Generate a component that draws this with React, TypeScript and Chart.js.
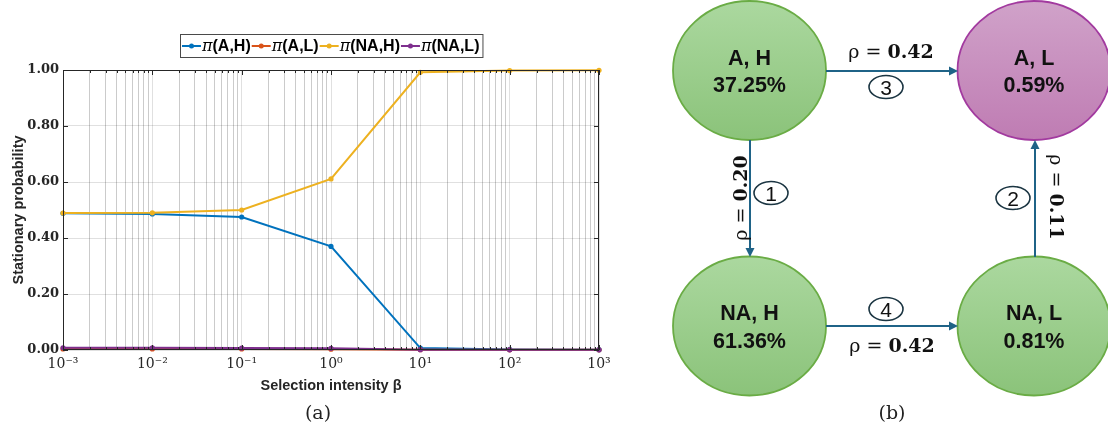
import React, { useEffect, useRef } from 'react';
import { Chart, registerables } from 'chart.js';

Chart.register(...registerables);

// ---------- chart data (panel a) ----------
const betaValues = [0.001, 0.01, 0.1, 1, 10, 100, 1000];
const piAH = [0.488, 0.486, 0.475, 0.370, 0.007, 0.002, 0.001];
const piAL = [0.004, 0.004, 0.004, 0.003, 0.001, 0.0005, 0.0005];
const piNAH = [0.489, 0.490, 0.500, 0.611, 0.992, 0.998, 0.999];
const piNAL = [0.008, 0.008, 0.007, 0.006, 0.001, 0.0005, 0.0005];
const seriesLabels = ['(A,H)', '(A,L)', '(NA,H)', '(NA,L)'];
const seriesColors = ['#0072BD', '#D95319', '#EDB120', '#7E2F8E'];
const yTicks = [0, 0.2, 0.4, 0.6, 0.8, 1.0];
const xTickLabels = ['10⁻³', '10⁻²', '10⁻¹', '10⁰', '10¹', '10²', '10³'];
const xDecades = [-3, -2, -1, 0, 1, 2, 3];
const yTitle = 'Stationary probability';
const xTitle = 'Selection intensity β';

// ---------- diagram data (panel b) ----------
const stateNames = ['A, H', 'A, L', 'NA, H', 'NA, L'];
const statePercents = ['37.25%', '0.59%', '61.36%', '0.81%'];
const transitionNumbers = ['1', '2', '3', '4'];
const transitionRhos = ['0.20', '0.11', '0.42', '0.42'];

const isDecade = (v: number) => {
  const l = Math.log10(v);
  return Math.abs(l - Math.round(l)) < 1e-9;
};

const boxPlugin = {
  id: 'matlabBox',
  afterDatasetsDraw(chart: any) {
    const { ctx, chartArea: a, scales } = chart;
    const xs = scales.x;
    const ys = scales.y;
    ctx.save();
    ctx.strokeStyle = '#262626';
    ctx.lineWidth = 1;
    ctx.beginPath();
    ctx.rect(a.left + 0.5, a.top + 0.5, a.right - a.left - 1, a.bottom - a.top - 1);
    ctx.stroke();
    ctx.beginPath();
    xs.ticks.forEach((t: any) => {
      const px = Math.round(xs.getPixelForValue(t.value)) + 0.5;
      const len = isDecade(t.value) ? 5 : 3;
      ctx.moveTo(px, a.bottom);
      ctx.lineTo(px, a.bottom - len);
      ctx.moveTo(px, a.top);
      ctx.lineTo(px, a.top + len);
    });
    ys.ticks.forEach((t: any) => {
      const py = Math.round(ys.getPixelForValue(t.value)) + 0.5;
      ctx.moveTo(a.left, py);
      ctx.lineTo(a.left + 5, py);
      ctx.moveTo(a.right, py);
      ctx.lineTo(a.right - 5, py);
    });
    ctx.stroke();
    ctx.restore();
  },
  afterDraw(chart: any) {
    const { ctx, chartArea: a } = chart;
    const piFont = 'italic 16px "DejaVu Serif"';
    const labFont = 'bold 16px "Liberation Sans"';
    const lineW = 19;
    const items = chart.data.datasets.map((ds: any) => {
      ctx.font = piFont;
      const wp = ctx.measureText('π').width;
      ctx.font = labFont;
      const wl = ctx.measureText(ds.label).width;
      return { label: ds.label, color: ds.borderColor, wp, wl, w: lineW + 1 + wp + wl + 1 };
    });
    const total = items.reduce((s: number, it: any) => s + it.w, 0) + 4;
    const cx = (a.left + a.right) / 2;
    const left = Math.round(cx - total / 2);
    const top = 34;
    const h = 23;
    ctx.save();
    ctx.fillStyle = '#ffffff';
    ctx.fillRect(left, top, total, h);
    ctx.strokeStyle = '#4a4a4a';
    ctx.lineWidth = 1;
    ctx.strokeRect(left + 0.5, top + 0.5, total, h);
    let x = left + 2;
    const midY = top + h / 2 + 0.5;
    items.forEach((it: any) => {
      ctx.strokeStyle = it.color;
      ctx.fillStyle = it.color;
      ctx.lineWidth = 2;
      ctx.beginPath();
      ctx.moveTo(x, midY);
      ctx.lineTo(x + lineW, midY);
      ctx.stroke();
      ctx.beginPath();
      ctx.arc(x + lineW / 2, midY, 2.5, 0, Math.PI * 2);
      ctx.fill();
      let tx = x + lineW + 1;
      ctx.fillStyle = '#000000';
      ctx.textBaseline = 'middle';
      ctx.textAlign = 'left';
      ctx.font = piFont;
      ctx.fillText('π', tx, midY + 1);
      tx += it.wp;
      ctx.font = labFont;
      ctx.fillText(it.label, tx, midY + 1);
      x += it.w;
    });
    ctx.restore();
  },
};

function LeftChart() {
  const ref = useRef<HTMLCanvasElement | null>(null);
  useEffect(() => {
    if (!ref.current) return;
    const seriesValues = [piAH, piAL, piNAH, piNAL];
    const orders = [4, 3, 2, 1];
    const chart = new Chart(ref.current, {
      type: 'line',
      data: {
        datasets: seriesValues.map((vals, i) => ({
          label: seriesLabels[i],
          data: betaValues.map((b, j) => ({ x: b, y: vals[j] })),
          borderColor: seriesColors[i],
          backgroundColor: seriesColors[i],
          borderWidth: 2,
          pointRadius: 2.6,
          pointHoverRadius: 2.6,
          pointBorderWidth: 0,
          fill: false,
          tension: 0,
          order: orders[i],
          clip: false as any,
        })),
      },
      options: {
        animation: false,
        responsive: false,
        maintainAspectRatio: false,
        events: [],
        layout: { padding: { left: 0, right: 41, top: 70, bottom: 0 } },
        plugins: {
          legend: { display: false },
          tooltip: { enabled: false },
          title: { display: false },
        },
        scales: {
          x: {
            type: 'logarithmic',
            min: 1e-3,
            max: 1e3,
            afterBuildTicks: (scale: any) => {
              const ticks: any[] = [];
              for (let k = -3; k < 3; k++) {
                for (let m = 1; m <= 9; m++) ticks.push({ value: m * Math.pow(10, k) });
              }
              ticks.push({ value: 1000 });
              scale.ticks = ticks;
            },
            afterFit: (scale: any) => {
              scale.height = 79;
            },
            border: { display: false },
            grid: {
              drawTicks: false,
              lineWidth: 1,
              color: (c: any) =>
                c.tick && isDecade(c.tick.value) ? 'rgba(38,38,38,0.14)' : 'rgba(38,38,38,0.24)',
            },
            ticks: {
              autoSkip: false,
              maxRotation: 0,
              minRotation: 0,
              padding: 6,
              color: '#262626',
              font: { family: '"DejaVu Serif"', size: 14 },
              callback: (v: any) => {
                const val = Number(v);
                if (!isDecade(val)) return '';
                const idx = xDecades.indexOf(Math.round(Math.log10(val)));
                return idx >= 0 ? xTickLabels[idx] : '';
              },
            },
            title: {
              display: true,
              text: xTitle,
              color: '#262626',
              font: { family: '"Liberation Sans"', size: 14.5, weight: 'bold' },
              padding: { top: 0, bottom: 34 },
            },
          },
          y: {
            type: 'linear',
            min: 0,
            max: 1,
            afterBuildTicks: (scale: any) => {
              scale.ticks = yTicks.map((v) => ({ value: v }));
            },
            afterFit: (scale: any) => {
              scale.width = 63;
            },
            border: { display: false },
            grid: { drawTicks: false, lineWidth: 1, color: 'rgba(38,38,38,0.14)' },
            ticks: {
              padding: 4,
              color: '#262626',
              font: { family: '"DejaVu Serif"', size: 13, weight: 'bold' },
              callback: (v: any) => Number(v).toFixed(2),
            },
            title: {
              display: true,
              text: yTitle,
              color: '#262626',
              font: { family: '"Liberation Sans"', size: 14.5, weight: 'bold' },
              padding: { top: 10, bottom: 0 },
            },
          },
        },
      } as any,
      plugins: [boxPlugin],
    });
    return () => chart.destroy();
  }, []);
  return (
    <canvas
      ref={ref}
      width={640}
      height={429}
      style={{ position: 'absolute', left: 0, top: 0, width: 640, height: 429 }}
    />
  );
}

function Arrow({ x1, y1, x2, y2 }: { x1: number; y1: number; x2: number; y2: number }) {
  const color = '#1f6387';
  const dx = x2 - x1;
  const dy = y2 - y1;
  const len = Math.hypot(dx, dy);
  const ux = dx / len;
  const uy = dy / len;
  const hl = 9;
  const hw = 4.5;
  const bx = x2 - ux * hl;
  const by = y2 - uy * hl;
  const pts = `${x2},${y2} ${bx - uy * hw},${by + ux * hw} ${bx + uy * hw},${by - ux * hw}`;
  return (
    <g>
      <line x1={x1} y1={y1} x2={bx + ux * 1} y2={by + uy * 1} stroke={color} strokeWidth={2} />
      <polygon points={pts} fill={color} />
    </g>
  );
}

function CircledNumber({ cx, cy, n }: { cx: number; cy: number; n: string }) {
  return (
    <g>
      <ellipse cx={cx} cy={cy} rx={17} ry={11.5} fill="none" stroke="#1b3542" strokeWidth={1.6} />
      <text
        x={cx}
        y={cy + 7.5}
        textAnchor="middle"
        fontFamily='"Liberation Sans", Arial, sans-serif'
        fontSize={21}
        fill="#111"
      >
        {n}
      </text>
    </g>
  );
}

function Rho({ value }: { value: string }) {
  return (
    <>
      <tspan fontWeight="normal">ρ = </tspan>
      <tspan fontWeight="bold">{value}</tspan>
    </>
  );
}

function Diagram() {
  const rx = 76.5;
  const ry = 69.5;
  const cols = [749.5, 1034];
  const rows = [70.5, 326];
  const nodes = stateNames.map((name, i) => ({
    name,
    pct: statePercents[i],
    cx: cols[i % 2],
    cy: rows[Math.floor(i / 2)],
    purple: i === 1,
  }));
  const serif = '"DejaVu Serif", serif';
  return (
    <svg
      width={1108}
      height={429}
      viewBox="0 0 1108 429"
      style={{ position: 'absolute', left: 0, top: 0 }}
    >
      <defs>
        <linearGradient id="gGreen" x1="0" y1="0" x2="0" y2="1">
          <stop offset="0" stopColor="#abd89f" />
          <stop offset="1" stopColor="#8bc37a" />
        </linearGradient>
        <linearGradient id="gPurple" x1="0" y1="0" x2="0" y2="1">
          <stop offset="0" stopColor="#d0a2c9" />
          <stop offset="1" stopColor="#bf7cb3" />
        </linearGradient>
      </defs>

      {nodes.map((n) => (
        <g key={n.name}>
          <ellipse
            cx={n.cx}
            cy={n.cy}
            rx={rx}
            ry={ry}
            fill={n.purple ? 'url(#gPurple)' : 'url(#gGreen)'}
            stroke={n.purple ? '#a23a9f' : '#6aac45'}
            strokeWidth={1.8}
          />
          <text
            x={n.cx}
            y={n.cy - 6}
            textAnchor="middle"
            fontFamily='"Liberation Sans", Arial, sans-serif'
            fontWeight="bold"
            fontSize={21.5}
            fill="#111"
          >
            {n.name}
          </text>
          <text
            x={n.cx}
            y={n.cy + 21.5}
            textAnchor="middle"
            fontFamily='"Liberation Sans", Arial, sans-serif'
            fontWeight="bold"
            fontSize={21.5}
            fill="#111"
          >
            {n.pct}
          </text>
        </g>
      ))}

      {/* 1: A,H -> NA,H */}
      <Arrow x1={750} y1={140} x2={750} y2={257} />
      {/* 2: NA,L -> A,L */}
      <Arrow x1={1035} y1={257} x2={1035} y2={140} />
      {/* 3: A,H -> A,L */}
      <Arrow x1={826} y1={71} x2={958} y2={71} />
      {/* 4: NA,H -> NA,L */}
      <Arrow x1={826} y1={326} x2={958} y2={326} />

      <CircledNumber cx={771} cy={193} n={transitionNumbers[0]} />
      <CircledNumber cx={1013} cy={198} n={transitionNumbers[1]} />
      <CircledNumber cx={886} cy={87} n={transitionNumbers[2]} />
      <CircledNumber cx={886} cy={309} n={transitionNumbers[3]} />

      <text
        transform="translate(747,198) rotate(-90)"
        textAnchor="middle"
        fontFamily={serif}
        fontSize={19}
        fill="#111"
      >
        <Rho value={transitionRhos[0]} />
      </text>
      <text
        transform="translate(1050,197) rotate(90)"
        textAnchor="middle"
        fontFamily={serif}
        fontSize={19}
        fill="#111"
      >
        <Rho value={transitionRhos[1]} />
      </text>
      <text x={891} y={58} textAnchor="middle" fontFamily={serif} fontSize={19} fill="#111">
        <Rho value={transitionRhos[2]} />
      </text>
      <text x={892} y={352} textAnchor="middle" fontFamily={serif} fontSize={19} fill="#111">
        <Rho value={transitionRhos[3]} />
      </text>

      <text x={318} y={419} textAnchor="middle" fontFamily={serif} fontSize={19} fill="#222">
        (a)
      </text>
      <text x={892} y={419} textAnchor="middle" fontFamily={serif} fontSize={19} fill="#222">
        (b)
      </text>
    </svg>
  );
}

export default function App() {
  return (
    <div
      style={{
        position: 'absolute',
        left: 0,
        top: 0,
        width: 1108,
        height: 429,
        background: '#ffffff',
        overflow: 'hidden',
      }}
    >
      <LeftChart />
      <Diagram />
    </div>
  );
}
